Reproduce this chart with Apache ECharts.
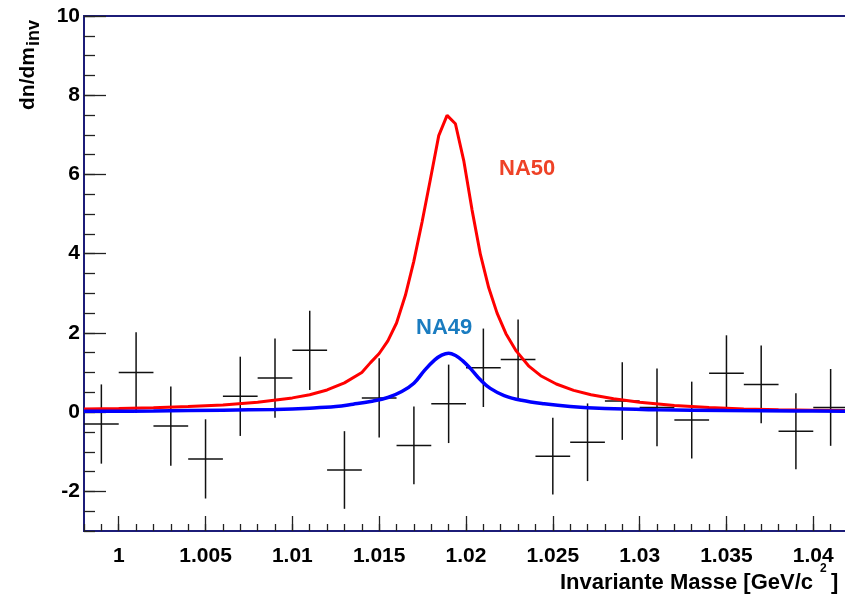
<!DOCTYPE html>
<html>
<head>
<meta charset="utf-8">
<script src="https://cdn.jsdelivr.net/npm/echarts@6/dist/echarts.min.js"></script>
<style>
  html, body { margin: 0; padding: 0; background: #fff; }
  #chart { width: 845px; height: 595px; }
</style>
</head>
<body>
<div id="chart"></div>
<script>
// histogram points (bin centres, contents, errors)
const binCenters = [0.999, 1.001, 1.003, 1.005, 1.007, 1.009, 1.011, 1.013, 1.015, 1.017, 1.019,
                    1.021, 1.023, 1.025, 1.027, 1.029, 1.031, 1.033, 1.035, 1.037, 1.039, 1.041];
const counts = [-0.3, 1.0, -0.35, -1.18, 0.4, 0.86, 1.56, -1.46, 0.36, -0.84, 0.21,
                1.12, 1.33, -1.11, -0.76, 0.28, 0.12, -0.2, 0.98, 0.7, -0.48, 0.12];
const errors = [1.0, 1.02, 1.0, 1.0, 1.0, 1.0, 1.0, 0.98, 1.0, 0.98, 0.99,
                0.99, 1.01, 0.97, 0.98, 0.98, 0.98, 0.97, 0.96, 0.98, 0.96, 0.97];
const binWidth = 0.002;

// NA50 curve (red)
const na50X = [0.998, 1.000, 1.002, 1.004, 1.006, 1.008, 1.010, 1.011, 1.012, 1.013, 1.014,
               1.0145, 1.0150, 1.0155, 1.0160, 1.01651, 1.01699, 1.01747, 1.01795, 1.01843, 1.01891,
               1.01939, 1.01987, 1.02035, 1.02083, 1.02131, 1.02179, 1.0223, 1.0229, 1.0236,
               1.0243, 1.0252, 1.0262, 1.0272, 1.0285, 1.0300, 1.0320, 1.0340, 1.0360, 1.0380,
               1.0400, 1.042];
const na50Y = [0.08, 0.09, 0.11, 0.14, 0.18, 0.25, 0.36, 0.44, 0.56, 0.74, 1.0,
               1.25, 1.48, 1.8, 2.25, 2.95, 3.8, 4.8, 5.88, 6.98, 7.49,
               7.28, 6.35, 5.1, 3.98, 3.14, 2.5, 1.98, 1.54, 1.17,
               0.92, 0.71, 0.55, 0.44, 0.34, 0.25, 0.17, 0.12, 0.08, 0.06,
               0.05, 0.04];

// NA49 curve (blue)
const na49X = [0.998, 1.002, 1.006, 1.009, 1.011, 1.0125, 1.0135, 1.0145, 1.0155, 1.0163,
               1.0170, 1.0176, 1.0182, 1.0186, 1.0190, 1.0194, 1.0198, 1.0203, 1.0208, 1.0214,
               1.0222, 1.0232, 1.0245, 1.026, 1.028, 1.031, 1.035, 1.039, 1.042];
const na49Y = [0.02, 0.03, 0.05, 0.07, 0.10, 0.14, 0.2, 0.27, 0.37, 0.52,
               0.73, 1.05, 1.32, 1.44, 1.49, 1.43, 1.3, 1.08, 0.83, 0.6,
               0.42, 0.3, 0.21, 0.14, 0.09, 0.06, 0.04, 0.03, 0.02];

// axis ticks
const xTickValues = [1.0, 1.005, 1.01, 1.015, 1.02, 1.025, 1.03, 1.035, 1.04];
const xTickLabels = ['1', '1.005', '1.01', '1.015', '1.02', '1.025', '1.03', '1.035', '1.04'];
const yTickValues = [-2, 0, 2, 4, 6, 8, 10];
const yTickLabels = ['-2', '0', '2', '4', '6', '8', '10'];

const FONT = '"Liberation Sans", Arial, Helvetica, sans-serif';
const frameColor = '#1c1c78';
const tickColor = '#222';

const chart = echarts.init(document.getElementById('chart'));

const errData = binCenters.map((x, i) => [x, counts[i], errors[i]]);

const option = {
  animation: false,
  backgroundColor: '#fff',
  grid: {
    left: 84, top: 16, width: 764, height: 515,
    show: true, borderColor: frameColor, borderWidth: 2,
    outerBoundsMode: 'none'
  },
  xAxis: [
    {
      type: 'value', min: 0.998, max: 1.042, position: 'bottom',
      axisLine: { show: true, onZero: false, lineStyle: { color: frameColor, width: 2 } },
      splitLine: { show: false },
      axisTick: { show: true, inside: true, length: 15, customValues: xTickValues,
                  lineStyle: { color: tickColor, width: 1.3 } },
      axisLabel: {
        show: true, customValues: xTickValues, margin: 15,
        fontFamily: FONT, fontWeight: 'bold', fontSize: 21, color: '#000',
        formatter: v => {
          const i = xTickValues.findIndex(t => Math.abs(t - v) < 1e-6);
          return i >= 0 ? xTickLabels[i] : '';
        }
      }
    },
    {
      // minor ticks every 0.001
      type: 'value', min: 0.998, max: 1.042, interval: 0.001, position: 'bottom',
      axisLine: { show: false, onZero: false }, splitLine: { show: false }, axisLabel: { show: false },
      axisTick: { show: true, inside: true, length: 7,
                  lineStyle: { color: tickColor, width: 1.3 } }
    }
  ],
  yAxis: [
    {
      type: 'value', min: -3, max: 10, position: 'left',
      axisLine: { show: true, onZero: false, lineStyle: { color: frameColor, width: 2 } },
      splitLine: { show: false },
      axisTick: { show: true, inside: true, length: 22, customValues: yTickValues,
                  lineStyle: { color: tickColor, width: 1.3 } },
      axisLabel: {
        show: true, customValues: yTickValues, margin: 4, padding: [5, 0, 0, 0],
        fontFamily: FONT, fontWeight: 'bold', fontSize: 21, color: '#000',
        formatter: v => {
          const i = yTickValues.findIndex(t => Math.abs(t - v) < 1e-6);
          return i >= 0 ? yTickLabels[i] : '';
        }
      }
    },
    {
      // minor ticks every 0.5
      type: 'value', min: -3, max: 10, interval: 0.5, position: 'left',
      axisLine: { show: false, onZero: false }, splitLine: { show: false }, axisLabel: { show: false },
      axisTick: { show: true, inside: true, length: 11,
                  lineStyle: { color: tickColor, width: 1.3 } }
    }
  ],
  series: [
    {
      name: 'data',
      type: 'custom',
      xAxisIndex: 0, yAxisIndex: 0,
      data: errData,
      renderItem: (params, api) => {
        const x = api.value(0), y = api.value(1), e = api.value(2);
        const top = api.coord([x, y + e]);
        const bot = api.coord([x, y - e]);
        const l = api.coord([x - binWidth / 2, y]);
        const r = api.coord([x + binWidth / 2, y]);
        const st = { stroke: '#111', lineWidth: 1.5 };
        return {
          type: 'group',
          children: [
            { type: 'line', shape: { x1: top[0], y1: top[1], x2: bot[0], y2: bot[1] }, style: st },
            { type: 'line', shape: { x1: l[0], y1: l[1], x2: r[0], y2: r[1] }, style: st }
          ]
        };
      },
      z: 2
    },
    {
      name: 'NA50', type: 'line', xAxisIndex: 0, yAxisIndex: 0,
      data: na50X.map((x, i) => [x, na50Y[i]]),
      showSymbol: false, smooth: false,
      lineStyle: { color: '#ff0000', width: 3 },
      z: 3
    },
    {
      name: 'NA49', type: 'line', xAxisIndex: 0, yAxisIndex: 0,
      data: na49X.map((x, i) => [x, na49Y[i]]),
      showSymbol: false, smooth: 0.4,
      lineStyle: { color: '#0000ff', width: 3.5 },
      z: 3
    }
  ],
  graphic: [
    {
      type: 'group', x: 35, y: 110, rotation: Math.PI / 2,
      children: [
        { type: 'text', x: 0, y: -7,
          style: { text: 'dn/dm', font: 'bold 21px ' + FONT, fill: '#000', verticalAlign: 'middle', align: 'left' } },
        { type: 'text', x: 64, y: -1,
          style: { text: 'inv', font: 'bold 18px ' + FONT, fill: '#000', verticalAlign: 'middle', align: 'left' } }
      ]
    },
    { type: 'text', x: 813, y: 572,
      style: { text: 'Invariante Masse [GeV/c', font: 'bold 22px ' + FONT, fill: '#000', align: 'right', verticalAlign: 'top' } },
    { type: 'text', x: 820, y: 563,
      style: { text: '2', font: 'bold 12px ' + FONT, fill: '#000', align: 'left', verticalAlign: 'top' } },
    { type: 'text', x: 831, y: 572,
      style: { text: ']', font: 'bold 22px ' + FONT, fill: '#000', align: 'left', verticalAlign: 'top' } },
    { type: 'text', x: 499, y: 158,
      style: { text: 'NA50', font: 'bold 22px ' + FONT, fill: '#ee4227', align: 'left', verticalAlign: 'top' } },
    { type: 'text', x: 416, y: 317,
      style: { text: 'NA49', font: 'bold 22px ' + FONT, fill: '#1a7cc0', align: 'left', verticalAlign: 'top' } }
  ]
};

chart.setOption(option);
</script>
</body>
</html>
